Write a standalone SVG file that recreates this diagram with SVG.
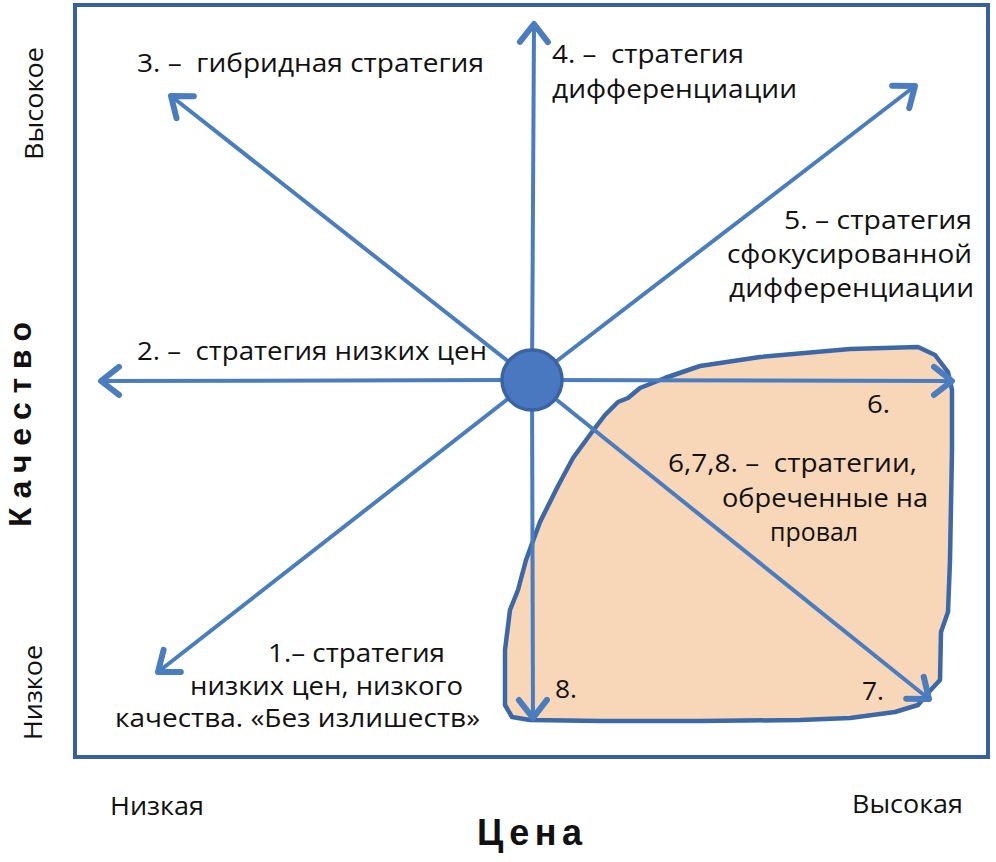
<svg xmlns="http://www.w3.org/2000/svg" width="996" height="862" viewBox="0 0 996 862">
<defs>
<style>
.t{font-family:"Open Sans","Liberation Sans",sans-serif;font-size:25px;fill:#111}
.ax{font-family:"Open Sans","Liberation Sans",sans-serif;font-size:25px;fill:#111}
.big{font-family:"Liberation Sans","DejaVu Sans",sans-serif;font-size:36px;font-weight:bold;fill:#111}
.bigv{font-family:"Liberation Sans","DejaVu Sans",sans-serif;font-size:32px;font-weight:bold;fill:#111}
.ar{stroke:#4a7dbf;stroke-width:4;fill:none}
</style>
<marker id="ah" markerUnits="userSpaceOnUse" markerWidth="40" markerHeight="40" viewBox="-25 -20 30 40" refX="0" refY="0" orient="auto">
<path d="M-18,-14 L0,0 L-18,14" fill="none" stroke="#4a7dbf" stroke-width="6" stroke-linecap="round" stroke-linejoin="round"/>
</marker>
</defs>
<rect width="996" height="862" fill="#ffffff"/>
<g id="frame">
<rect x="75" y="5" width="913" height="752" fill="#ffffff" stroke="#36609f" stroke-width="4"/>
</g>
<g id="fail-zone">
<path d="M592,432 L605,415 L618,402 L628,398 L640,388 L665,378 L700,366 L760,357 L850,349 L918,347 L935,355 L948,372 L952,390 L952,450 L950,560 L948,612 L941,632 L940,680 L928,693 L918,705 L895,712 L850,718 L800,720 L700,721 L600,721 L530,720 L512,717 L505,705 L505,650 L510,610 L518,590 L526,560 L540,522 L558,486 L573,458 Z" fill="#f8d6b8" stroke="#3c68a8" stroke-width="4.5" stroke-linejoin="round"/>
</g>
<g id="connectors">
<line class="ar" x1="532" y1="380" x2="534" y2="24" marker-end="url(#ah)"/>
<line class="ar" x1="532" y1="380" x2="533" y2="718" marker-end="url(#ah)"/>
<line class="ar" x1="532" y1="380" x2="101" y2="381" marker-end="url(#ah)"/>
<line class="ar" x1="532" y1="380" x2="952" y2="381" marker-end="url(#ah)"/>
<line class="ar" x1="532" y1="380" x2="171" y2="96" marker-end="url(#ah)"/>
<line class="ar" x1="532" y1="380" x2="915" y2="86" marker-end="url(#ah)"/>
<line class="ar" x1="532" y1="380" x2="158" y2="672" marker-end="url(#ah)"/>
<line class="ar" x1="532" y1="380" x2="929" y2="699" marker-end="url(#ah)"/>
</g>
<g id="center">
<circle cx="532" cy="380" r="30" fill="#4a78c0" stroke="#3a63a6" stroke-width="3.5"/>
</g>
<g id="label-3"><text class="t" x="137" y="72" textLength="347" lengthAdjust="spacingAndGlyphs">3. –&#160; гибридная стратегия</text></g>
<g id="label-4">
<text class="t" x="552" y="63" textLength="192" lengthAdjust="spacingAndGlyphs">4. –&#160; стратегия</text>
<text class="t" x="552" y="98" textLength="245" lengthAdjust="spacingAndGlyphs">дифференциации</text>
</g>
<g id="label-5">
<text class="t" x="784" y="229" textLength="188" lengthAdjust="spacingAndGlyphs">5. – стратегия</text>
<text class="t" x="727" y="263" textLength="245" lengthAdjust="spacingAndGlyphs">сфокусированной</text>
<text class="t" x="729" y="297" textLength="245" lengthAdjust="spacingAndGlyphs">дифференциации</text>
</g>
<g id="label-2"><text class="t" x="137" y="360" textLength="350" lengthAdjust="spacingAndGlyphs">2. –&#160; стратегия низких цен</text></g>
<g id="label-6"><text class="t" x="867" y="413" textLength="23" lengthAdjust="spacingAndGlyphs">6.</text></g>
<g id="label-678">
<text class="t" x="668" y="472" textLength="249" lengthAdjust="spacingAndGlyphs">6,7,8. –&#160; стратегии,</text>
<text class="t" x="722" y="507" textLength="206" lengthAdjust="spacingAndGlyphs">обреченные на</text>
<text class="t" x="770" y="541" textLength="88" lengthAdjust="spacingAndGlyphs">провал</text>
</g>
<g id="label-1">
<text class="t" x="268" y="662" textLength="177" lengthAdjust="spacingAndGlyphs">1.– стратегия</text>
<text class="t" x="190" y="695" textLength="273" lengthAdjust="spacingAndGlyphs">низких цен, низкого</text>
<text class="t" x="115" y="727" textLength="365" lengthAdjust="spacingAndGlyphs">качества. «Без излишеств»</text>
</g>
<g id="label-8"><text class="t" x="555" y="698" textLength="22" lengthAdjust="spacingAndGlyphs">8.</text></g>
<g id="label-7"><text class="t" x="862" y="700" textLength="22" lengthAdjust="spacingAndGlyphs">7.</text></g>
<g id="axis-x">
<text class="ax" x="110" y="815" textLength="94" lengthAdjust="spacingAndGlyphs">Низкая</text>
<text class="ax" x="852" y="813" textLength="111" lengthAdjust="spacingAndGlyphs">Высокая</text>
<text class="big" x="477" y="845" textLength="105" lengthAdjust="spacing">Цена</text>
</g>
<g id="axis-y">
<text class="ax" transform="translate(43,160) rotate(-90)" x="0" y="0" textLength="113" lengthAdjust="spacingAndGlyphs">Высокое</text>
<text class="ax" transform="translate(42,740) rotate(-90)" x="0" y="0" textLength="95" lengthAdjust="spacingAndGlyphs">Низкое</text>
<text class="bigv" transform="translate(31,527) rotate(-90)" x="0" y="0" textLength="205" lengthAdjust="spacing">Качество</text>
</g>
</svg>
